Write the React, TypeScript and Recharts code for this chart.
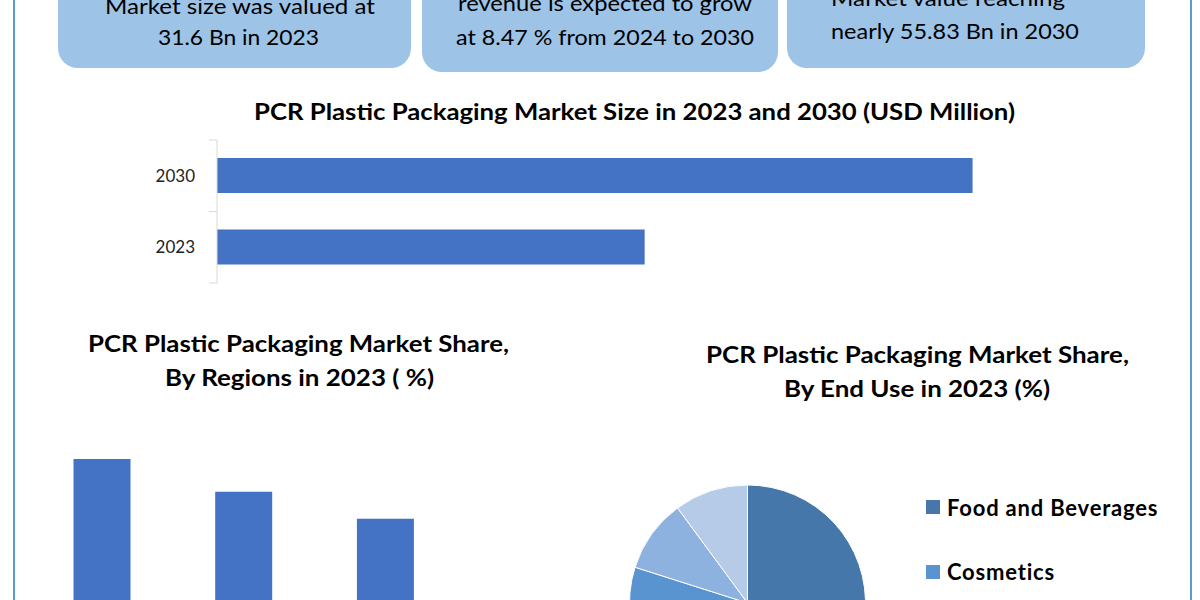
import { BarChart, Bar, XAxis, YAxis, PieChart, Pie, Cell, Legend } from 'recharts';

// market size, USD million
const sizeYears = ['2030', '2023'];
const sizeValues = [55830, 31600];

// regional share 2023 (%)
const regions = ['North America', 'Europe', 'Asia Pacific', 'Rest of the World'];
const regionShares = [35.0, 30.0, 25.9, 9.1];

// end use share 2023 (%)
const endUses = ['Food and Beverages', 'Cosmetics', 'Pharmaceuticals', 'Others'];
const endUseShares = [52.4, 27.5, 10.0, 10.1];
const endUseColors = ['#4677aa', '#5a94d0', '#8db2e0', '#b6cbe8'];

const sizeData = sizeYears.map((year, i) => ({ year, value: sizeValues[i] }));
const regionData = regions.map((region, i) => ({ region, share: regionShares[i] }));
const endUseData = endUses.map((name, i) => ({ name, share: endUseShares[i] }));

const FONT = 'Lato, "Open Sans", sans-serif';
const BLUE = '#4472c4';

function YearTick(props: any) {
  const { x, y, payload, index, visibleTicksCount } = props;
  const half = payload && payload.offset ? payload.offset : 35.75;
  return (
    <g>
      <line x1={x - 8} x2={x} y1={y - half} y2={y - half} stroke="#d9d9d9" />
      {index === visibleTicksCount - 1 && (
        <line x1={x - 8} x2={x} y1={y + half} y2={y + half} stroke="#d9d9d9" />
      )}
      <text x={x - 22} y={y} dy={6} textAnchor="end" fontSize={17} fill="#222" fontFamily={FONT}>
        {payload.value}
      </text>
    </g>
  );
}

function EndUseLegend({ payload }: any) {
  // keep the order of the data, not alphabetical
  const items = [...(payload || [])].sort(
    (a: any, b: any) => endUses.indexOf(a.value) - endUses.indexOf(b.value)
  );
  return (
    <div style={{ fontFamily: FONT }}>
      {items.map((entry: any) => (
        <div key={entry.value} style={{ display: 'flex', alignItems: 'center', height: 64.5 }}>
          <span style={{ display: 'inline-block', width: 14, height: 14, background: entry.color, marginRight: 7 }} />
          <span style={{ fontWeight: 700, fontSize: 22, letterSpacing: 0.8, color: '#000' }}>{entry.value}</span>
        </div>
      ))}
    </div>
  );
}

function Txt({ x, y, w, size, bold, children }: any) {
  return (
    <text
      x={x}
      y={y}
      textLength={w}
      lengthAdjust="spacingAndGlyphs"
      fontSize={size}
      fontWeight={bold ? 700 : 400}
      fontFamily={FONT}
      fill="#000"
    >
      {children}
    </text>
  );
}

export default function App() {
  return (
    <div style={{ position: 'absolute', left: 0, top: 0, width: 1200, height: 600, overflow: 'hidden', background: '#fff' }}>
      <svg width={1200} height={600} style={{ position: 'absolute', left: 0, top: 0 }}>
        <line x1={14} x2={14} y1={0} y2={600} stroke="#5b9bd5" strokeWidth={2} />
        <line x1={1191} x2={1191} y1={0} y2={600} stroke="#5b9bd5" strokeWidth={2} />

        <rect x={58} y={-40} width={353} height={108} rx={20} fill="#9dc3e6" />
        <rect x={422} y={-40} width={356} height={112} rx={20} fill="#9dc3e6" />
        <rect x={787} y={-40} width={358} height={108} rx={20} fill="#9dc3e6" />

        <Txt x={105} y={14} w={270} size={22}>Market size was valued at</Txt>
        <Txt x={158} y={45} w={161} size={22}>31.6 Bn in 2023</Txt>
        <Txt x={458} y={11} w={294} size={22}>revenue is expected to grow</Txt>
        <Txt x={456} y={45} w={298} size={22}>at 8.47 % from 2024 to 2030</Txt>
        <Txt x={831} y={6} w={234} size={22}>Market value reaching</Txt>
        <Txt x={831} y={39} w={248} size={22}>nearly 55.83 Bn in 2030</Txt>

        <Txt x={254} y={120} w={761} size={23} bold>PCR Plastic Packaging Market Size in 2023 and 2030 (USD Million)</Txt>
        <Txt x={88} y={352} w={421} size={23} bold>PCR Plastic Packaging Market Share,</Txt>
        <Txt x={165} y={386} w={269} size={23} bold>By Regions in 2023 ( %)</Txt>
        <Txt x={706} y={363} w={423} size={23} bold>PCR Plastic Packaging Market Share,</Txt>
        <Txt x={784} y={397} w={266} size={23} bold>By End Use in 2023 (%)</Txt>
      </svg>

      <div style={{ position: 'absolute', left: 0, top: 130 }}>
        <BarChart
          layout="vertical"
          width={1100}
          height={170}
          data={sizeData}
          margin={{ top: 10, right: 71, bottom: 17, left: 0 }}
          barSize={35}
        >
          <XAxis type="number" domain={[0, 60000]} hide />
          <YAxis
            type="category"
            dataKey="year"
            width={217}
            axisLine={{ stroke: '#d9d9d9' }}
            tickLine={false}
            tickSize={0}
            tickMargin={0}
            tick={<YearTick />}
          />
          <Bar dataKey="value" fill={BLUE} isAnimationActive={false} />
        </BarChart>
      </div>

      <div style={{ position: 'absolute', left: 0, top: 400 }}>
        <BarChart
          width={620}
          height={330}
          data={regionData}
          margin={{ top: 26, right: 21.7, bottom: 11, left: 31.5 }}
          barSize={57}
        >
          <XAxis
            dataKey="region"
            height={30}
            axisLine={{ stroke: '#d9d9d9' }}
            tickLine={false}
            tick={{ fontSize: 14, fill: '#404040', fontFamily: FONT }}
          />
          <YAxis hide domain={[0, 40]} />
          <Bar dataKey="share" fill={BLUE} isAnimationActive={false} />
        </BarChart>
      </div>

      <div style={{ position: 'absolute', left: 600, top: 470 }}>
        <PieChart width={590} height={266} margin={{ top: 0, right: 0, bottom: 0, left: 0 }}>
          <Pie
            data={endUseData}
            dataKey="share"
            nameKey="name"
            cx={147.5}
            cy={133}
            outerRadius={118}
            startAngle={90}
            endAngle={-270}
            stroke="#fff"
            strokeWidth={1}
            isAnimationActive={false}
          >
            {endUseData.map((d, i) => (
              <Cell key={d.name} fill={endUseColors[i]} />
            ))}
          </Pie>
          <Legend
            layout="vertical"
            align="right"
            verticalAlign="top"
            content={<EndUseLegend />}
            wrapperStyle={{ left: 326, top: 5, width: 260 }}
          />
        </PieChart>
      </div>
    </div>
  );
}
